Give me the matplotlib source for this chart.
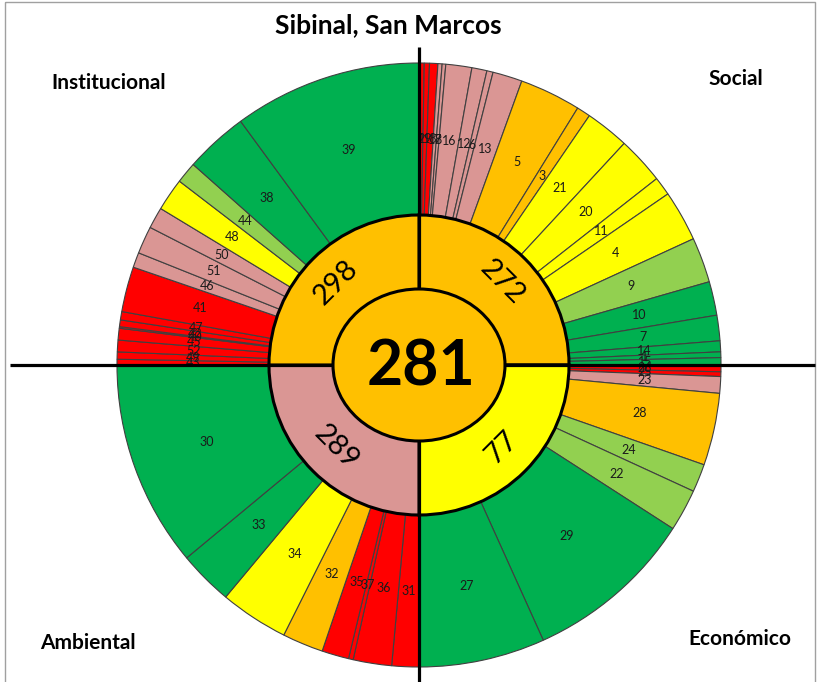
""" Sunburst of indicator scores for Sibinal, San Marcos. """

import numpy as np
import matplotlib
matplotlib.use('Agg')
import matplotlib.pyplot as plt
from matplotlib.patches import Ellipse, Rectangle


### DATA ###

# Colour classes used by the chart
GREEN = '#00B050'
LGREEN = '#92D050'
YELLOW = '#FFFF00'
ORANGE = '#FFC000'
PINK = '#DA9694'
RED = '#FF0000'

# Outer ring, each dimension goes clockwise (angular size in degrees, 90 per dimension)
social_labels = ['2', '19', '18', '17', '8', '16', '12', '6', '13', '5', '3', '21', '20', '11', '4',
    '9', '10', '7', '14', '1', '15']
social_sizes = [1.0, 1.0, 1.6, 0.8, 0.7, 5.0, 2.9, 1.2, 5.7, 11.8, 2.65, 8.45, 9.1, 3.6, 9.8,
    8.7, 6.5, 4.9, 2.1, 1.1, 1.4]
social_colors = [RED, RED, RED, PINK, PINK, PINK, PINK, PINK, PINK, ORANGE, ORANGE, YELLOW, YELLOW,
    YELLOW, YELLOW, LGREEN, GREEN, GREEN, GREEN, GREEN, GREEN]

econ_labels = ['26', '25', '23', '28', '24', '22', '29', '27']
econ_sizes = [1.3, 0.9, 3.2, 13.9, 5.4, 8.1, 32.9, 24.3]
econ_colors = [RED, RED, PINK, ORANGE, LGREEN, LGREEN, GREEN, GREEN]

amb_labels = ['31', '36', '37', '35', '32', '34', '33', '30']
amb_sizes = [5.2, 7.4, 0.9, 5.2, 7.9, 13.2, 10.5, 39.7]
amb_colors = [RED, RED, RED, RED, ORANGE, YELLOW, GREEN, GREEN]

inst_labels = ['43', '49', '52', '45', '40', '42', '47', '41', '46', '51', '50', '48', '44', '38', '39']
inst_sizes = [1.1, 1.4, 2.25, 2.25, 0.3, 1.3, 1.6, 8.7, 2.9, 5.3, 4.1, 6.3, 4.1, 12.2, 36.2]
inst_colors = [RED, RED, RED, RED, RED, RED, RED, RED, PINK, PINK, PINK, YELLOW, LGREEN, GREEN, GREEN]

# Middle ring (dimension scores), clockwise from the top
dim_names = ['Social', 'Económico', 'Ambiental', 'Institucional']
dim_scores = ['272', '77', '289', '298']
dim_colors = [ORANGE, YELLOW, PINK, ORANGE]

# Overall score
total_score = '281'
total_color = ORANGE

title = 'Sibinal, San Marcos'

### ###


W, H = 818, 682
cx, cy = 419, 365
r_out = 302
r_mid = 150

plt.rcParams['font.family'] = ['Lato', 'DejaVu Sans']

fig = plt.figure(figsize=(W/100, H/100), dpi=100)
ax = fig.add_axes([0, 0, 1, 1])


# Outer ring
out_labels = social_labels + econ_labels + amb_labels + inst_labels
out_sizes = social_sizes + econ_sizes + amb_sizes + inst_sizes
out_colors = social_colors + econ_colors + amb_colors + inst_colors

# y axis is inverted (pixel coords), so counterclock=True draws clockwise on screen
wedges, texts = ax.pie(out_sizes, labels=out_labels, colors=out_colors, radius=r_out, center=(cx, cy),
    startangle=-90, counterclock=True, labeldistance=226/r_out,
    wedgeprops=dict(width=r_out - r_mid, edgecolor='#404040', linewidth=0.8),
    textprops=dict(fontsize=9, color='#1a1a1a'))

for t in texts:
    t.set_ha('center')
    t.set_va('center')


# Middle ring with the dimension scores
wedges_m, texts_m = ax.pie([1]*len(dim_scores), labels=dim_scores, colors=dim_colors, radius=r_mid,
    center=(cx, cy), startangle=-90, counterclock=True, labeldistance=0.78,
    wedgeprops=dict(edgecolor='black', linewidth=2.2),
    textprops=dict(fontsize=21, color='black'))

for i, t in enumerate(texts_m):
    # Tangential, readable rotation
    phi = 360.0*(i + 0.5)/len(dim_scores)
    t.set_rotation(((90 - phi) % 180) - 90)
    t.set_rotation_mode('anchor')
    t.set_ha('center')
    t.set_va('center')


# Axis cross
ax.plot([10, 815], [cy, cy], color='black', lw=2.3, zorder=5, solid_capstyle='butt')
ax.plot([cx, cx], [47, H], color='black', lw=2.3, zorder=5, solid_capstyle='butt')

# Centre with the total score
ax.add_patch(Ellipse((cx, cy), 172, 152, facecolor=total_color, edgecolor='black', lw=2.2, zorder=6))
ax.text(cx + 2, cy + 2, total_score, fontsize=45, fontweight='bold', ha='center', va='center', zorder=7)


# Title and dimension names
ax.text(388, 25, title, fontsize=19, fontweight='bold', ha='center', va='center')
ax.text(109, 83, dim_names[3], fontsize=15, fontweight='bold', ha='center', va='center')
ax.text(736, 79, dim_names[0], fontsize=15, fontweight='bold', ha='center', va='center')
ax.text(88, 643, dim_names[2], fontsize=15, fontweight='bold', ha='center', va='center')
ax.text(740, 639, dim_names[1], fontsize=15, fontweight='bold', ha='center', va='center')

# Chart frame
ax.add_patch(Rectangle((5, 2), 810, 700, fill=False, edgecolor='#A0A0A0', lw=1))

ax.set_xlim(0, W)
ax.set_ylim(H, 0)
ax.set_aspect('auto')
ax.axis('off')

plt.savefig('out.png', dpi=100, facecolor='white')
plt.close()
